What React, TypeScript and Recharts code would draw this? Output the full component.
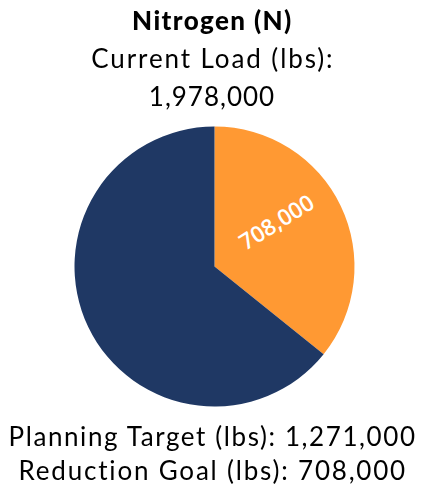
import React from 'react';
import { PieChart, Pie, Cell } from 'recharts';

const categories = ['Reduction Goal', 'Planning Target'];
const values = [708000, 1271000];
const colors = ['#FF9933', '#1F3864'];
const titleText = 'Nitrogen (N)';
const currentLoadLabel = 'Current Load (lbs):';
const currentLoadValue = '1,978,000';
const planningLine = 'Planning Target (lbs): 1,271,000';
const reductionLine = 'Reduction Goal (lbs): 708,000';

const data = categories.map((name, i) => ({ name, value: values[i] }));

const RADIAN = Math.PI / 180;

const renderLabel = (props: any) => {
  const { cx, cy, midAngle, outerRadius, value, index } = props;
  if (index !== 0) return null;
  const ang = midAngle + 10.3;
  const r = outerRadius * 0.545;
  const x = cx + r * Math.cos(-ang * RADIAN);
  const y = cy + r * Math.sin(-ang * RADIAN);
  return (
    <text
      x={x}
      y={y}
      fill="#FFFFFF"
      fontFamily="'Open Sans', sans-serif"
      fontSize={22.5}
      fontWeight={600}
      textAnchor="middle"
      dominantBaseline="central"
      transform={`rotate(-32 ${x} ${y})`}
    >
      {value.toLocaleString('en-US')}
    </text>
  );
};

const lineStyle: React.CSSProperties = {
  position: 'absolute',
  left: 0,
  width: 422,
  textAlign: 'center',
  fontFamily: 'Lato, sans-serif',
  fontSize: 26,
  color: '#000',
  whiteSpace: 'nowrap',
  lineHeight: '36px',
};

export default function App() {
  return (
    <div style={{ position: 'fixed', left: 0, top: 0, width: 422, height: 489, background: '#fff' }}>
      <PieChart width={422} height={489} margin={{ top: 0, right: 0, bottom: 0, left: 0 }}>
        <Pie
          data={data}
          dataKey="value"
          nameKey="name"
          cx={214.5}
          cy={266.5}
          outerRadius={140}
          startAngle={90}
          endAngle={-270}
          stroke="none"
          label={renderLabel}
          labelLine={false}
          isAnimationActive={false}
        >
          {data.map((d, i) => (
            <Cell key={d.name} fill={colors[i]} />
          ))}
        </Pie>
      </PieChart>
      <div style={{ ...lineStyle, top: 2, fontWeight: 900, letterSpacing: 1.4, paddingLeft: 1.4 }}>{titleText}</div>
      <div style={{ ...lineStyle, top: 40, letterSpacing: 1.9, paddingLeft: 1.9 }}>{currentLoadLabel}</div>
      <div style={{ ...lineStyle, top: 78, letterSpacing: 1.0, paddingLeft: 1.0 }}>{currentLoadValue}</div>
      <div style={{ ...lineStyle, top: 418, letterSpacing: 1.6, paddingLeft: 1.6 }}>{planningLine}</div>
      <div style={{ ...lineStyle, top: 452, letterSpacing: 1.8, paddingLeft: 1.8 }}>{reductionLine}</div>
    </div>
  );
}
